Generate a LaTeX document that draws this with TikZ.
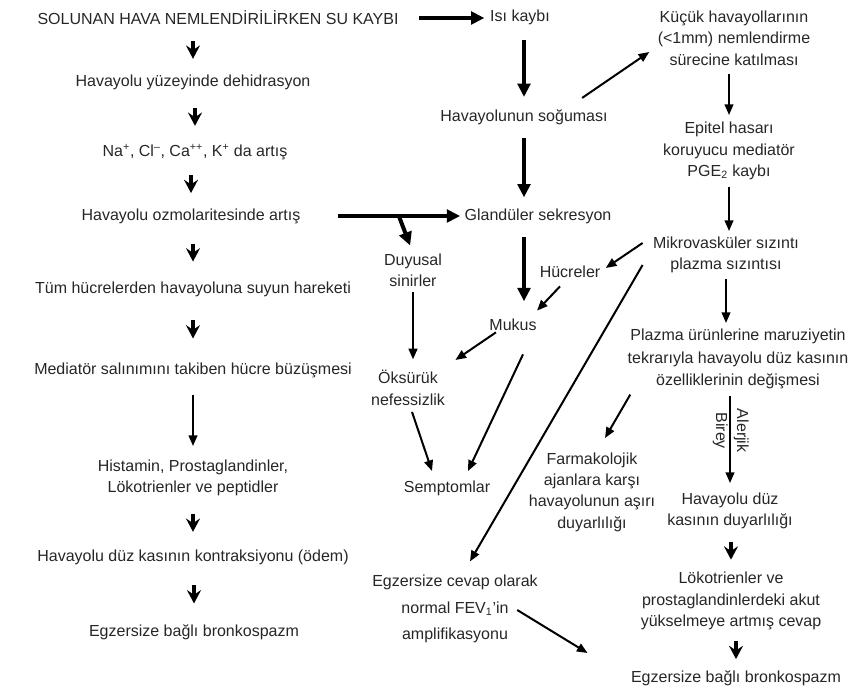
\documentclass[tikz,border=0pt]{standalone}
\usepackage{fontspec}
\setmainfont{Liberation Sans}
\usetikzlibrary{arrows.meta,calc}

\tikzset{every picture/.style={line width=0.75pt}}
\tikzset{
  txt/.style={inner sep=0pt, align=center, text=black!85, font=\fontsize{12}{16}\selectfont},
  chev/.style={line width=2.4pt, -{Stealth[length=10pt,width=10.5pt,inset=3.5pt]}},
  thinarr/.style={line width=1.5pt, -{Triangle[length=8pt,width=6.5pt]}},
  thickarr/.style={line width=3pt, -{Triangle[length=10pt,width=9.5pt]}},
}

\begin{document}
\begin{tikzpicture}[x=0.75pt,y=0.75pt,yscale=-1,xscale=1]
    \useasboundingbox (0,0) rectangle (848,691);

    %Text Nodes: left column
    \node[txt] (s1) at (218,18) {SOLUNAN HAVA NEMLENDİRİLİRKEN SU KAYBI};
    \node[txt] (s2) at (193,82) {Havayolu yüzeyinde dehidrasyon};
    \node[txt] (s3) at (195,152) {Na\textsuperscript{+}, Cl\textsuperscript{–}, Ca\textsuperscript{++}, K\textsuperscript{+} da artış};
    \node[txt] (s4) at (191,216) {Havayolu ozmolaritesinde artış};
    \node[txt] (s5) at (193,289) {Tüm hücrelerden havayoluna suyun hareketi};
    \node[txt] (s6) at (193,370) {Mediatör salınımını takiben hücre büzüşmesi};
    \node[txt] (s7) at (193,478) {Histamin, Prostaglandinler,\\Lökotrienler ve peptidler};
    \node[txt] (s8) at (193,557) {Havayolu düz kasının kontraksiyonu (ödem)};
    \node[txt] (s9) at (194,632) {Egzersize bağlı bronkospazm};

    %Text Nodes: middle column
    \node[txt] (heat) at (520,17) {Isı kaybı};
    \node[txt] (cool) at (524,117) {Havayolunun soğuması};
    \node[txt] (gland) at (538,216) {Glandüler sekresyon};
    \node[txt] (nerve) at (413,270) {Duyusal\\sinirler};
    \node[txt] (cells) at (570,272) {Hücreler};
    \node[txt] (mucus) at (513,325) {Mukus};
    \node[txt] (cough) at (408,388) {Öksürük\\nefessizlik};
    \node[txt] (sympt) at (447,488) {Semptomlar};
    \node[txt] (pharm) at (592,492) {Farmakolojik\\ajanlara karşı\\havayolunun aşırı\\duyarlılığı};
    \node[txt, font=\fontsize{12}{20}\selectfont] (fev) at (455,609) {Egzersize cevap olarak\\normal FEV\textsubscript{1}'in\\amplifikasyonu};

    %Text Nodes: right column
    \node[txt] (r1) at (734,38) {Küçük havayollarının\\(<1mm) nemlendirme\\sürecine katılması};
    \node[txt] (r2) at (729,151) {Epitel hasarı\\koruyucu mediatör\\PGE\textsubscript{2} kaybı};
    \node[txt] (r3) at (726,255) {Mikrovasküler sızıntı\\plazma sızıntısı};
    \node[txt, font=\fontsize{12}{17}\selectfont] (r4) at (738,359) {Plazma ürünlerine maruziyetin\\tekrarıyla havayolu düz kasının\\özelliklerinin değişmesi};
    \node[txt] (r5) at (730,511) {Havayolu düz\\kasının duyarlılığı};
    \node[txt] (r6) at (731,601) {Lökotrienler ve\\prostaglandinlerdeki akut\\yükselmeye artmış cevap};
    \node[txt] (r7) at (736,678) {Egzersize bağlı bronkospazm};

    %Short Arrows
    \foreach \a/\b in {s1/s2,s2/s3,s3/s4,s4/s5,s5/s6,s7/s8,s8/s9,r5/r6,r6/r7}
      \draw[chev] ($(\a.south -| \b.north)!.5!(\b.north)$) +(0,-9) -- +(0,9);
    \draw[thinarr, shorten <=13pt, shorten >=10pt] (s6.south) -- (s7.north);

    %Thick Arrows
    \draw[thickarr, shorten <=15pt, shorten >=4pt] (s1.east) -- (s1.east -| heat.west);
    \draw[thickarr, shorten <=11pt, shorten >=9pt] (heat.south -| cool.north) -- (cool.north);
    \draw[thickarr, shorten <=10pt, shorten >=8pt] (cool.south) -- (cool.south |- gland.north);
    \draw[thickarr, shorten <=28pt, shorten >=3pt] (s4.east) -- (s4.east -| gland.west);
    \draw[thickarr, shorten >=6pt] ($(s4.east)!.6!(s4.east -| gland.west)$) -- (nerve.north);
    \draw[thickarr, shorten <=10pt, shorten >=13pt] (cool.south |- gland.south) -- (cool.south |- mucus.north);

    %Straight Lines
    \draw[thinarr] ($(cool.north east)+(-26,-11)$) -- ($(r1.west)+(-8,14)$);
    \draw[thinarr, shorten <=6pt, shorten >=5pt] (r1.south -| r2.north) -- (r2.north);
    \draw[thinarr, shorten <=5pt, shorten >=4pt] (r2.south) -- (r2.south |- r3.north);
    \draw[thinarr] ($(r3.west)+(-10,-12)$) -- ($(cells.east)+(5,-4)$);
    \draw[thinarr] ($(cells.south)+(-10,8)$) -- ($(mucus.north east)+(0,-8)$);
    \draw[thinarr] ($(mucus.south west)+(7,1)$) -- ($(cough.east)+(10,-28)$);
    \draw[thinarr, shorten <=4pt, shorten >=8pt] (nerve.south) -- (nerve.south |- cough.north);
    \draw[thinarr] ($(cough.south)+(4,6)$) -- ($(sympt.north)+(-15,-9)$);
    \draw[thinarr] ($(mucus.south)+(10,23)$) -- ($(sympt.north)+(21,-9)$);
    \draw[thinarr] ($(r3.west)+(-10,10)$) -- ($(fev.north)+(15,-13)$);
    \draw[thinarr, shorten <=4pt, shorten >=4pt] (r3.south) -- (r3.south |- r4.north);
    \draw[thinarr] ($(r4.south west)+(3,5)$) -- ($(pharm.north)+(13,-14)$);
    \draw[thinarr, shorten <=5pt, shorten >=7pt] (r4.south -| r5.north) -- (r5.north)
      node[txt, pos=.4, rotate=-90, anchor=south, inner sep=2pt] {Alerjik}
      node[txt, pos=.4, rotate=-90, anchor=north, inner sep=1pt] {Birey};
    \draw[thinarr] ($(fev.east)+(-21,1)$) -- ($(r7.west)+(-43,-25)$);

\end{tikzpicture}
\end{document}
